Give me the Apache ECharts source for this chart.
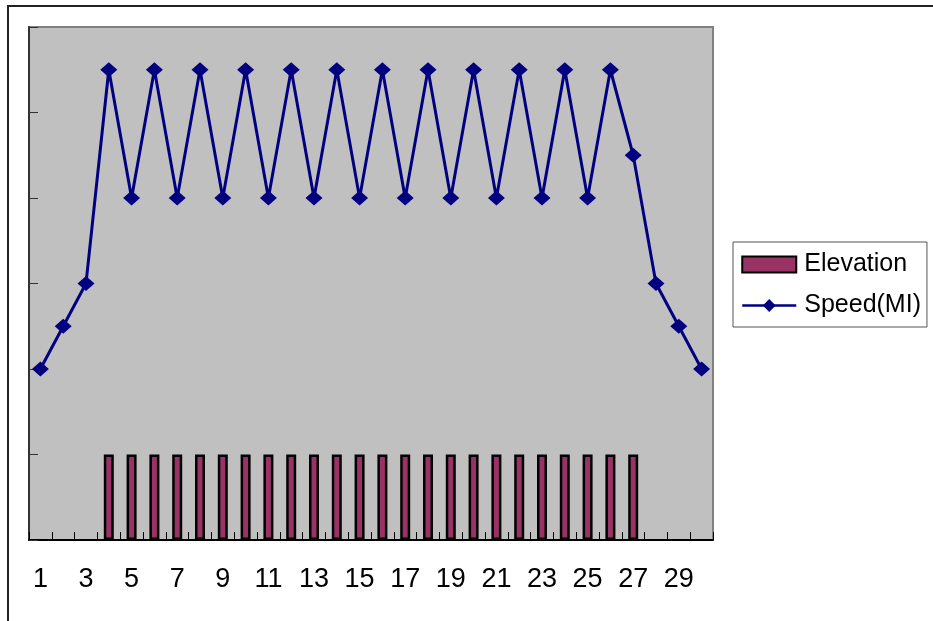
<!DOCTYPE html>
<html>
<head>
<meta charset="utf-8">
<script src="https://cdn.jsdelivr.net/npm/echarts@6/dist/echarts.min.js"></script>
<style>
html,body{margin:0;padding:0;background:#fff;}
#chart{width:933px;height:621px;}
</style>
</head>
<body>
<div id="chart"></div>
<script>
const categories = ['1','2','3','4','5','6','7','8','9','10','11','12','13','14','15','16','17','18','19','20','21','22','23','24','25','26','27','28','29','30'];
const elevation = [null,null,null,1,1,1,1,1,1,1,1,1,1,1,1,1,1,1,1,1,1,1,1,1,1,1,1,null,null,null];
const speed = [2,2.5,3,5.5,4,5.5,4,5.5,4,5.5,4,5.5,4,5.5,4,5.5,4,5.5,4,5.5,4,5.5,4,5.5,4,5.5,4.5,3,2.5,2];
const yTicks = [0,1,2,3,4,5,6];

const chart = echarts.init(document.getElementById('chart'));
chart.setOption({
  animation: false,
  backgroundColor: '#ffffff',
  textStyle: { fontFamily: 'Liberation Sans, Arial, sans-serif' },
  graphic: [{
    type: 'rect', z: -10,
    shape: { x: 8, y: 6, width: 960, height: 660 },
    style: { fill: 'none', stroke: '#222', lineWidth: 2 }
  }],
  grid: {
    left: 29, top: 27, width: 684, height: 513,
    show: true, backgroundColor: '#C0C0C0', borderColor: '#808080', borderWidth: 2
  },
  legend: {
    orient: 'vertical', left: 733, top: 242,
    padding: [10, 6, 9, 8], itemGap: 16,
    itemWidth: 54, itemHeight: 16,
    borderColor: '#555', borderWidth: 1, backgroundColor: '#fff',
    textStyle: { fontSize: 25, color: '#000', fontFamily: 'Liberation Sans, Arial, sans-serif', padding: [0,0,0,3] },
    data: [
      { name: 'Elevation', icon: 'rect', itemStyle: { color: '#993366', borderColor: '#000', borderWidth: 2 } },
      { name: 'Speed(MI)', lineStyle: { color: '#000080', width: 2.5 } }
    ]
  },
  xAxis: {
    type: 'category', data: categories, boundaryGap: true,
    axisLine: { show: true, onZero: false, lineStyle: { color: '#000', width: 2 } },
    axisTick: { show: true, inside: true, length: 8, interval: 0, lineStyle: { color: '#000', width: 1 } },
    axisLabel: { interval: 1, fontSize: 27, color: '#000', margin: 26 },
    splitLine: { show: false }
  },
  yAxis: {
    type: 'value', min: yTicks[0], max: yTicks[yTicks.length-1], interval: 1,
    axisLine: { show: true, lineStyle: { color: '#333', width: 2 } },
    axisTick: { show: true, inside: true, length: 9, lineStyle: { color: '#333', width: 1 } },
    axisLabel: { show: false },
    splitLine: { show: false }
  },
  series: [{
    name: 'Elevation', type: 'bar', data: elevation, barWidth: 10,
    itemStyle: { color: '#993366', borderColor: '#000', borderWidth: 2.5 }
  }, {
    name: 'Speed(MI)', type: 'line', data: speed,
    symbol: 'diamond', symbolSize: [17, 15],
    lineStyle: { color: '#000080', width: 3 },
    itemStyle: { color: '#000080' }
  }]
});
</script>
</body>
</html>
